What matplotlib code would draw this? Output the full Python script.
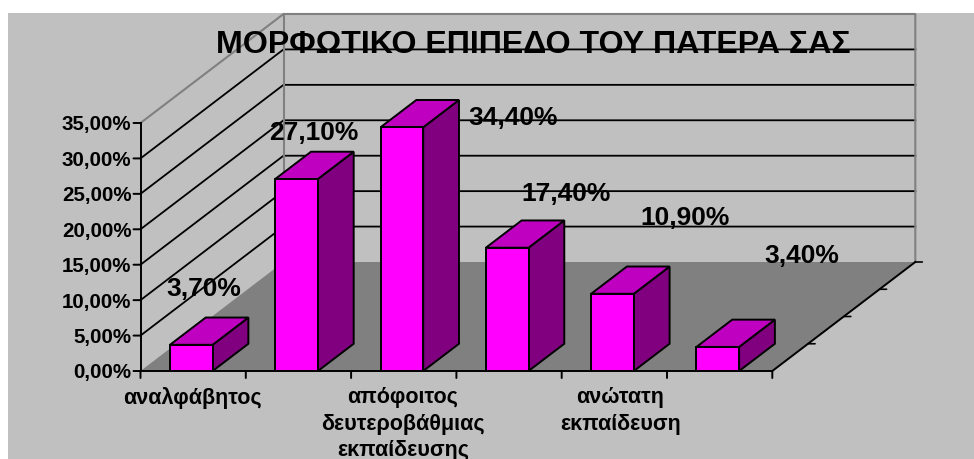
import matplotlib
matplotlib.use("Agg")
import matplotlib.pyplot as plt
from matplotlib.patches import Polygon, Rectangle

plt.rcParams['font.family'] = ['Liberation Sans', 'DejaVu Sans']

title = 'ΜΟΡΦΩΤΙΚΟ ΕΠΙΠΕΔΟ ΤΟΥ ΠΑΤΕΡΑ ΣΑΣ'
categories = ['αναλφάβητος', '', 'απόφοιτος\nδευτεροβάθμιας\nεκπαίδευσης', '', 'ανώτατη\nεκπαίδευση', '']
values = [3.7, 27.1, 34.4, 17.4, 10.9, 3.4]
value_labels = ['3,70%', '27,10%', '34,40%', '17,40%', '10,90%', '3,40%']
y_ticks = [0, 5, 10, 15, 20, 25, 30, 35]
y_tick_labels = ['0,00%', '5,00%', '10,00%', '15,00%', '20,00%', '25,00%', '30,00%', '35,00%']

# labels were dragged by hand in the original, offsets in px from the bar top
label_offsets = [(12, 50), (17, 40), (111, 3), (59, 48), (73, 70), (84, 85)]
cat_label_dx = [0, 0, 0, 0, 7, 0]

# pixel layout of the oblique view
W, H = 974, 460
x0, y0 = 140.5, 372
cat_w = 105.3
val_h = 7.086
depth_x = 143.0 / cat_w
depth_y = 109.0 / val_h
bar_left = 0.28
bar_w = 0.405
bar_depth = 0.25

GREY = '#c0c0c0'
WALL_EDGE = '#808080'
FRONT = '#ff00ff'
SIDE = '#800080'
TOP = '#c000c0'


def proj(c, v, d=0.0):
    return c + d * depth_x, v + d * depth_y


def face(ax, pts, color):
    ax.add_patch(Polygon(pts, closed=True, facecolor=color, edgecolor='black',
                         linewidth=1.4, joinstyle='miter', zorder=4))


n = len(categories)
vmax = y_ticks[-1]

fig = plt.figure(figsize=(W / 100, H / 100), dpi=100, facecolor='white')

# chart area
fig.add_artist(Rectangle((8 / W, -0.01), 1, 1.01 - 14 / H, transform=fig.transFigure,
                         facecolor=GREY, edgecolor='none', zorder=-1))

ax = fig.add_axes([0, 0, 1, 1])
ax.set_xlim(-x0 / cat_w, (W - x0) / cat_w)
ax.set_ylim(-(H - y0) / val_h, y0 / val_h)
ax.axis('off')

# gridlines on both walls
for v in y_ticks[1:-1]:
    ax.plot(*zip(proj(0, v), proj(0, v, 1), proj(n, v, 1)), color='black', lw=1.3, zorder=1)
ax.plot(*zip(proj(0, vmax), proj(0, vmax, 1), proj(n, vmax, 1), proj(n, 0, 1)),
        color=WALL_EDGE, lw=1.5, zorder=1)
ax.plot(*zip(proj(0, 0, 1), proj(0, vmax, 1)), color=WALL_EDGE, lw=1.5, zorder=1)

# floor
ax.add_patch(Polygon([proj(0, 0), proj(n, 0), proj(n, 0, 1), proj(0, 0, 1)], closed=True,
                     facecolor=WALL_EDGE, edgecolor='none', zorder=2))
ax.plot(*zip(proj(0, 0), proj(0, vmax)), color='black', lw=1.4, zorder=3)
ax.plot(*zip(proj(0, 0), proj(n, 0), proj(n, 0, 1)), color='black', lw=1.4, zorder=3)

# bars
for i, v in enumerate(values):
    l = i + bar_left
    r = l + bar_w
    d = bar_depth
    face(ax, [proj(r, 0), proj(r, 0, d), proj(r, v, d), proj(r, v)], SIDE)
    face(ax, [proj(l, v), proj(r, v), proj(r, v, d), proj(l, v, d)], TOP)
    face(ax, [proj(l, 0), proj(r, 0), proj(r, v), proj(l, v)], FRONT)

# ticks
for v, lab in zip(y_ticks, y_tick_labels):
    ax.annotate('', xy=(0, v), xytext=(-7, 0), textcoords='offset pixels', xycoords='data',
                arrowprops=dict(arrowstyle='-', color='black', lw=1.4, shrinkA=0, shrinkB=0), zorder=3)
    ax.annotate(lab, xy=(0, v), xytext=(-9, -1), textcoords='offset pixels',
                ha='right', va='center', fontsize=14.8, fontweight='bold', zorder=6)

for c in range(n + 1):
    ax.annotate('', xy=(c, 0), xytext=(0, -7), textcoords='offset pixels',
                arrowprops=dict(arrowstyle='-', color='black', lw=1.4, shrinkA=0, shrinkB=0), zorder=3)

for k in range(1, 5):
    p = proj(n, 0, k / 4)
    ax.annotate('', xy=p, xytext=(7, 0), textcoords='offset pixels',
                arrowprops=dict(arrowstyle='-', color='black', lw=1.2, shrinkA=0, shrinkB=0), zorder=3)

# category labels
for i, lab in enumerate(categories):
    if lab:
        ax.annotate(lab, xy=(i + 0.5, 0), xytext=(cat_label_dx[i] - 1, -15), textcoords='offset pixels',
                    ha='center', va='top', fontsize=15.5, fontweight='bold', linespacing=1.35, zorder=6)

# value labels
for i, (v, lab, off) in enumerate(zip(values, value_labels, label_offsets)):
    ax.annotate(lab, xy=(i + bar_left + bar_w / 2, v), xytext=off, textcoords='offset pixels',
                ha='center', va='baseline', fontsize=19, fontweight='bold', zorder=7)

ax.text(n / 2 + depth_x / 2 + 0.05, vmax + depth_y - 5.4, title, ha='center', va='baseline',
        fontsize=23.1, fontweight='bold', zorder=7)

fig.savefig('out.png', dpi=100, facecolor='white')
